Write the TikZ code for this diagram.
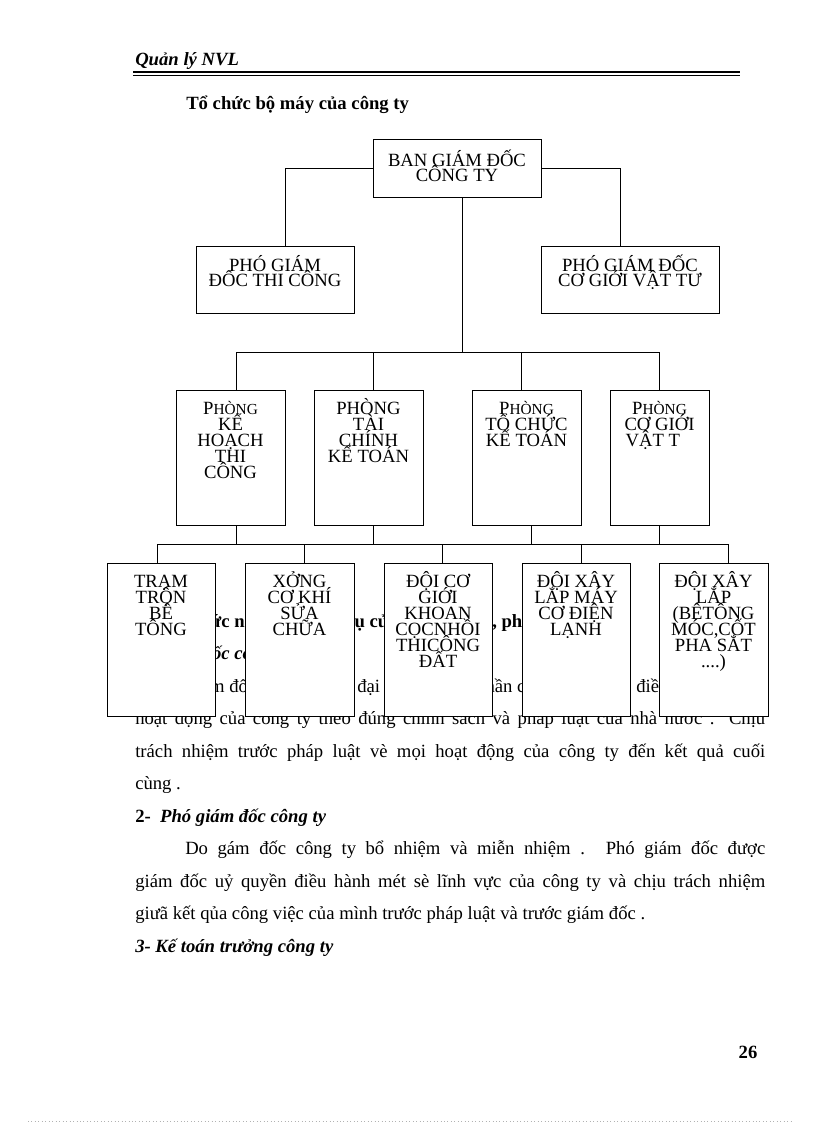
\documentclass[tikz,border=0pt]{standalone}
\usepackage{fontspec}
\setmainfont{Liberation Serif}
\newcommand{\smcP}{P{\fontsize{11.5pt}{12pt}\selectfont HÒNG}}
\newcommand{\tallrule}{\rule{0pt}{15pt}}
\begin{document}
\begin{tikzpicture}[x=0.75pt,y=-0.75pt,
  box/.style={draw, fill=white, line width=0.75pt, inner sep=0pt, outer sep=0pt},
  lbl/.style={anchor=north, align=center, inner sep=0pt, font={\fontsize{14pt}{12pt}\selectfont\lineskiplimit=-100pt\lineskip=0pt}},
  lbltop/.style={lbl, font={\fontsize{14pt}{11.4pt}\selectfont\lineskiplimit=-100pt\lineskip=0pt}},
  conn/.style={line width=0.75pt},
  body/.style={anchor=base west, inner sep=0pt, font=\fontsize{14pt}{16pt}\selectfont}]
\useasboundingbox[fill=white] (0,0) rectangle (816,1123);

% header
\node[body] (hdr) at (135,66) {\bfseries\itshape Quản lý NVL};
\draw[line width=1.5pt] (133,72) -- (740,72);
\draw[line width=0.6pt] (133,75) -- (740,75);
\node[body] (title) at (186,110) {\bfseries Tổ chức bộ máy của công ty};

% body text (partly covered by the chart boxes)
\node[body] (l1a) at (186,627) {\bfseries Chức năng};
\node[body] (l1b) at (345,627) {\bfseries vụ của};
\node[body] (l1c) at (492,627) {\bfseries , phòng};
\node[body] (l2) at (135,659.5) {\bfseries\itshape 1- Giám đốc công ty};
\node[body] (l3a) at (183,692) {Giám đốc là người};
\node[body] (l3b) at (357,692) {đại diện toàn};
\node[body] (l3c) at (476,692) {phần của công ty,};
\node[body] (l3d) at (636,692) {điều hành mọi};
\node[body] (l4) at (135,724.5) {\makebox[472.5pt][s]{hoạt động của công ty theo đúng chính sách và pháp luật của nhà nước . Chịu}};
\node[body] (l5) at (135,757) {\makebox[472.5pt][s]{trách nhiệm trước pháp luật vè mọi hoạt động của công ty đến kết quả cuối}};
\node[body] (l6) at (135,789.5) {cùng .};
\node[body] (l7) at (135,822) {\bfseries 2-\hspace{7pt}\itshape Phó giám đốc công ty};
\node[body] (l8) at (185,854.5) {\makebox[435pt][s]{Do gám đốc công ty bổ nhiệm và miễn nhiệm . Phó giám đốc được}};
\node[body] (l9) at (135,887) {\makebox[472.5pt][s]{giám đốc uỷ quyền điều hành mét sè lĩnh vực của công ty và chịu trách nhiệm}};
\node[body] (l10) at (135,919.5) {giưã kết qủa công việc của mình trước pháp luật và trước giám đốc .};
\node[body] (l11) at (135,952) {\bfseries\itshape 3- Kế toán trưởng công ty};
\node[body, anchor=base] (pg) at (748,1058) {\bfseries 26};
\draw[gray!60, dotted, line width=0.6pt] (28,1121) -- (792,1121);

% chart boxes
\node[box, minimum width=126pt, minimum height=43.5pt] (top) at (457,169) {};
\node[box, minimum width=118.5pt, minimum height=50.25pt] (pgd1) at (275,279.5) {};
\node[box, minimum width=133.5pt, minimum height=50.25pt] (pgd2) at (630,279.5) {};
\node[box, minimum width=81.75pt, minimum height=101.25pt] (m1) at (230.5,457.5) {};
\node[box, minimum width=81.75pt, minimum height=101.25pt] (m2) at (368.5,457.5) {};
\node[box, minimum width=81.75pt, minimum height=101.25pt] (m3) at (526.5,457.5) {};
\node[box, minimum width=74.25pt, minimum height=101.25pt] (m4) at (659.5,457.5) {};
\node[box, minimum width=81pt, minimum height=114.75pt] (b1) at (161,639.5) {};
\node[box, minimum width=81.75pt, minimum height=114.75pt] (b2) at (299.5,639.5) {};
\node[box, minimum width=81pt, minimum height=114.75pt] (b3) at (438,639.5) {};
\node[box, minimum width=81pt, minimum height=114.75pt] (b4) at (576,639.5) {};
\node[box, minimum width=81.75pt, minimum height=114.75pt] (b5) at (713.5,639.5) {};

% connectors
\draw[conn] (top.west) -| ([xshift=7.5pt]pgd1.north);
\draw[conn] (top.east) -| ([xshift=-7.5pt]pgd2.north);
\draw[conn] ([xshift=3.75pt]top.south) -- ++(0,154);
\draw[conn] ([xshift=4.125pt]m1.north) -- ++(0,-38) -| ([xshift=-0.375pt]m4.north);
\draw[conn] ([xshift=3.375pt]m2.north) -- ++(0,-38);
\draw[conn] ([xshift=-4.125pt]m3.north) -- ++(0,-38);
\draw[conn] ([xshift=4.125pt]m1.south) -- ++(0,19);
\draw[conn] ([xshift=3.375pt]m2.south) -- ++(0,19);
\draw[conn] ([xshift=3.375pt]m3.south) -- ++(0,19);
\draw[conn] ([xshift=-0.375pt]m4.south) -- ++(0,19);
\draw[conn] ([xshift=-3pt]b1.north) -- ++(0,-19) -| ([xshift=10.875pt]b5.north);
\draw[conn] ([xshift=3.375pt]b2.north) -- ++(0,-19);
\draw[conn] ([xshift=3pt]b3.north) -- ++(0,-19);
\draw[conn] ([xshift=3.75pt]b4.north) -- ++(0,-19);

% box labels (first baseline 15pt below each label's top)
\node[lbltop] (ttop) at ([yshift=-4.5pt]top.north) {\tallrule BAN GIÁM ĐỐC\\CÔNG TY};
\node[lbltop] (tpgd1) at ([yshift=-3.75pt]pgd1.north) {\tallrule PHÓ GIÁM\\ĐỐC THI CÔNG};
\node[lbltop] (tpgd2) at ([yshift=-3.75pt]pgd2.north) {\tallrule PHÓ GIÁM ĐỐC\\CƠ GIỚI VẬT TƯ};
\node[lbl] (tm1) at ([yshift=-3pt]m1.north) {\tallrule\smcP\\KẾ\\HOẠCH\\THI\\CÔNG};
\node[lbl] (tm2) at ([yshift=-3pt]m2.north) {\tallrule PHÒNG\\TÀI\\CHÍNH\\KẾ TOÁN};
\node[lbl] (tm3) at ([yshift=-3pt]m3.north) {\tallrule\smcP\\TỔ CHỨC\\KẾ TOÁN};
\node[lbl] (tm4) at ([yshift=-3pt]m4.north) {\tallrule\smcP\\CƠ GIỚI\\VẬT T\hspace*{10pt}};
\node[lbl] (tb1) at ([yshift=-3pt]b1.north) {\tallrule TRẠM\\TRỘN\\BÊ\\TÔNG};
\node[lbl] (tb2) at ([yshift=-3pt]b2.north) {\tallrule XỞNG\\CƠ KHÍ\\SỬA\\CHỮA};
\node[lbl] (tb3) at ([yshift=-3pt]b3.north) {\tallrule ĐỘI CƠ\\GIỚI\\KHOAN\\CỌCNHỒI\\THICÔNG\\ĐẤT};
\node[lbl] (tb4) at ([yshift=-3pt]b4.north) {\tallrule ĐỘI XÂY\\LẮP MÁY\\CƠ ĐIỆN\\LẠNH};
\node[lbl] (tb5) at ([yshift=-3pt]b5.north) {\tallrule ĐỘI XÂY\\LẮP\\(BÊTÔNG\\MÓC,CỐT\\PHA SẮT\\....)};
\end{tikzpicture}
\end{document}
